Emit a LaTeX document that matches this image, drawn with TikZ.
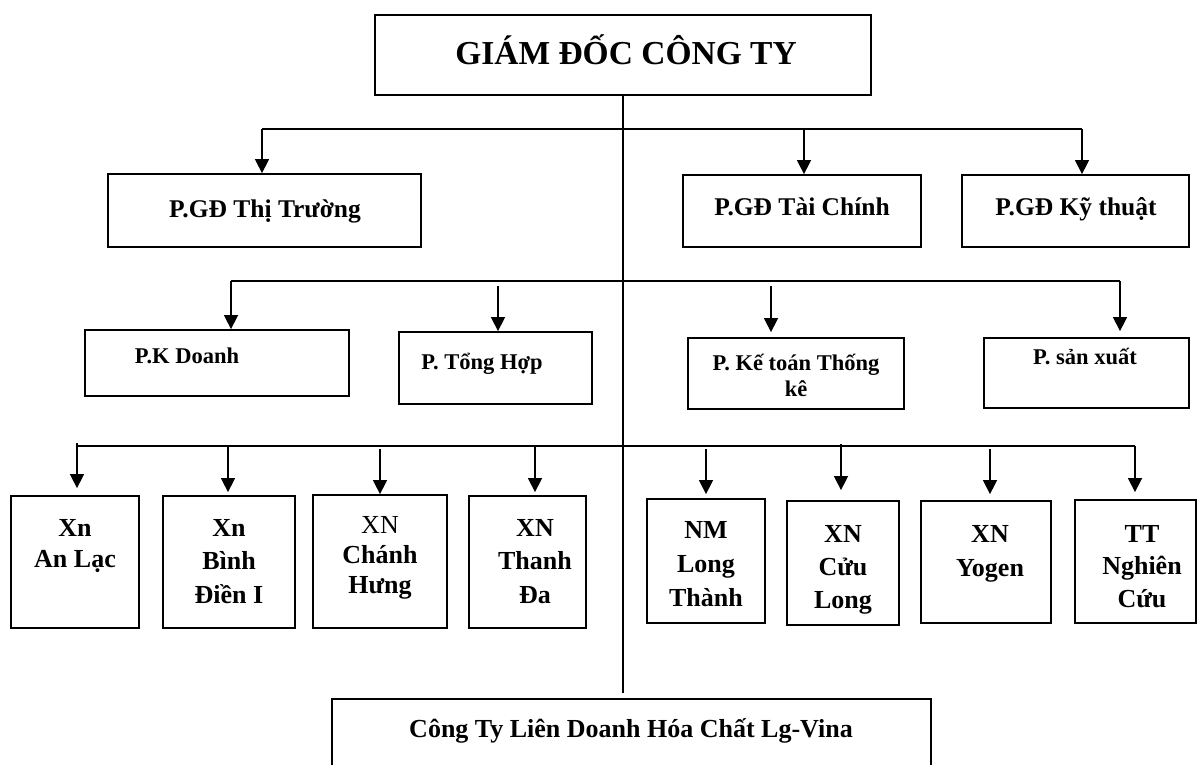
\documentclass[tikz,border=0pt]{standalone}
\usepackage{fontspec}
\setmainfont{Liberation Serif}
\usetikzlibrary{arrows.meta,calc,fit}
\begin{document}
\begin{tikzpicture}[x=1pt,y=-1pt,
  box/.style={draw, line width=1.8pt, inner sep=0pt},
  wire/.style={line width=1.5pt},
  arr/.style={wire, -{Triangle[length=14pt,width=14pt]}},
  % multi-line labels are placed by the baseline of their last line
  txt/.style={inner sep=0pt, anchor=base, align=center},
  ttl/.style={txt, font=\bfseries\fontsize{33.5}{40}\selectfont},
  lone/.style={txt, font=\bfseries\fontsize{25.5}{30}\selectfont},
  ltwo/.style={txt, font=\bfseries\fontsize{22.5}{26}\selectfont},
  lthree/.style={txt, font=\bfseries\fontsize{26}{#1}\selectfont},
  lthree/.default=33.5
]
\useasboundingbox (0,0) rectangle (1199,765);
\clip (0,0) rectangle (1199,765);

% director
\node[box, fit={(375,15) (871,95)}] (gd) {};
\node[ttl] (gd-t) at (626,65) {GIÁM ĐỐC CÔNG TY};

% deputy directors
\node[box, fit={(108,174) (421,247)}] (tt) {};
\node[lone] (tt-t) at (265,217) {P.GĐ Thị Trường};
\node[box, fit={(683,175) (921,247)}] (tc) {};
\node[lone] (tc-t) at (802,215) {P.GĐ Tài Chính};
\node[box, fit={(962,175) (1189,247)}] (kt) {};
\node[lone] (kt-t) at (1076,215) {P.GĐ Kỹ thuật};

% departments
\node[box, fit={(85,330) (349,396)}] (kd) {};
\node[ltwo] (kd-t) at (187,363) {P.K Doanh};
\node[box, fit={(399,332) (592,404)}] (th) {};
\node[ltwo] (th-t) at (482,369) {P. Tổng Hợp};
\node[box, fit={(688,338) (904,409)}] (ktk) {};
\node[ltwo] (ktk-t) at (796,396) {P. Kế toán Thống\\kê};
\node[box, fit={(984,338) (1189,408)}] (sx) {};
\node[ltwo] (sx-t) at (1085,364) {P. sản xuất};

% units
\node[box, fit={(11,496) (139,628)}] (x1) {};
\node[lthree=31] (x1-t) at (75,567) {Xn\\An Lạc};
\node[box, fit={(163,496) (295,628)}] (x2) {};
\node[lthree] (x2-t) at (229,603) {Xn\\Bình\\Điền I};
\node[box, fit={(313,495) (447,628)}] (x3) {};
\node[lthree=30] (x3-t) at (380,593) {{\mdseries XN}\\Chánh\\Hưng};
\node[box, fit={(469,496) (586,628)}] (x4) {};
\node[lthree] (x4-t) at (535,603) {XN\\Thanh\\Đa};
\node[box, fit={(647,499) (765,623)}] (x5) {};
\node[lthree=34] (x5-t) at (706,606) {NM\\Long\\Thành};
\node[box, fit={(787,501) (899,625)}] (x6) {};
\node[lthree=33] (x6-t) at (843,608) {XN\\Cửu\\Long};
\node[box, fit={(921,501) (1051,623)}] (x7) {};
\node[lthree=34] (x7-t) at (990,576) {XN\\Yogen};
\node[box, fit={(1075,500) (1196,623)}] (x8) {};
\node[lthree=32.5] (x8-t) at (1142,607) {TT\\Nghiên\\Cứu};

% joint venture
\node[box, fit={(332,699) (931,800)}] (lv) {};
\node[lthree] (lv-t) at (631,737) {Công Ty Liên Doanh Hóa Chất Lg-Vina};

% main trunk
\draw[wire] (gd.south) -- ($(gd.south |- lv.north)+(0,-5)$);

% first branch
\coordinate (r1a) at (262,129);
\coordinate (r1b) at (804,129);
\coordinate (r1c) at (1082,129);
\draw[wire] (r1a) -- (r1c);
\draw[arr] (r1a) -- (r1a |- tt.north);
\draw[arr] (r1b) -- (r1b |- tc.north);
\draw[arr] (r1c) -- (r1c |- kt.north);

% second branch
\coordinate (r2a) at (231,281);
\coordinate (r2b) at (498,281);
\coordinate (r2c) at (771,281);
\coordinate (r2d) at (1120,281);
\draw[wire] (r2a) -- (r2d);
\draw[arr] (r2a) -- (r2a |- kd.north);
\draw[arr] ($(r2b)+(0,5)$) -- (r2b |- th.north);
\draw[arr] ($(r2c)+(0,5)$) -- ($(r2c |- ktk.north)+(0,-5)$);
\draw[arr] (r2d) -- ($(r2d |- sx.north)+(0,-6)$);

% third branch
\coordinate (r3a) at (77,446);
\coordinate (r3b) at (228,446);
\coordinate (r3c) at (380,446);
\coordinate (r3d) at (535,446);
\coordinate (r3e) at (706,446);
\coordinate (r3f) at (841,446);
\coordinate (r3g) at (990,446);
\coordinate (r3h) at (1135,446);
\draw[wire] (r3a) -- (r3h);
\draw[arr] ($(r3a)+(0,-3)$) -- ($(r3a |- x1.north)+(0,-7)$);
\draw[arr] (r3b) -- ($(r3b |- x2.north)+(0,-3)$);
\draw[arr] ($(r3c)+(0,3)$) -- (r3c |- x3.north);
\draw[arr] (r3d) -- ($(r3d |- x4.north)+(0,-3)$);
\draw[arr] ($(r3e)+(0,3)$) -- ($(r3e |- x5.north)+(0,-4)$);
\draw[arr] ($(r3f)+(0,-2)$) -- ($(r3f |- x6.north)+(0,-10)$);
\draw[arr] ($(r3g)+(0,3)$) -- ($(r3g |- x7.north)+(0,-6)$);
\draw[arr] (r3h) -- ($(r3h |- x8.north)+(0,-7)$);
\end{tikzpicture}
\end{document}
